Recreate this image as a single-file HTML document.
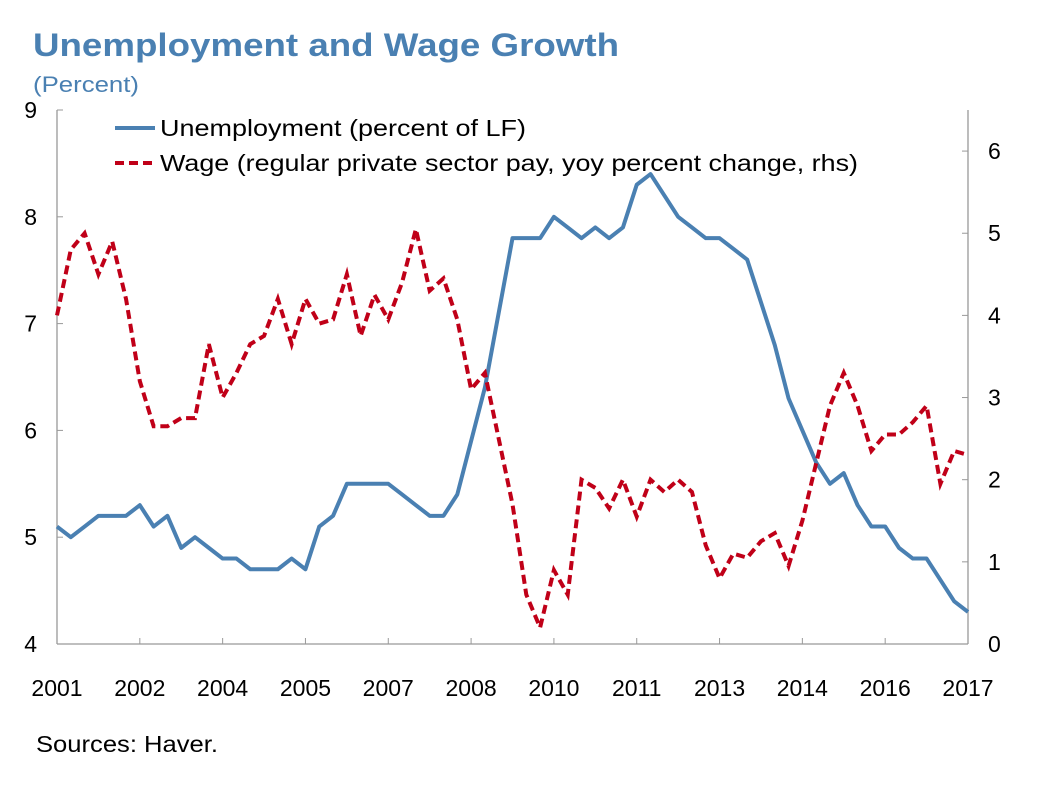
<!DOCTYPE html>
<html><head><meta charset="utf-8"><style>
body{margin:0;background:#fff;width:1046px;height:782px;overflow:hidden;font-family:"Liberation Sans",sans-serif}
svg text{font-family:"Liberation Sans",sans-serif}
</style></head><body>
<svg id="chart" width="1046" height="782">
<text x="33" y="56" font-size="32" font-weight="bold" fill="#4a80b2" textLength="586" lengthAdjust="spacingAndGlyphs">Unemployment and Wage Growth</text>
<text x="33" y="92" font-size="22" fill="#4a80b2" textLength="106" lengthAdjust="spacingAndGlyphs">(Percent)</text>
<text x="36" y="752" font-size="23" fill="#000" textLength="182" lengthAdjust="spacingAndGlyphs">Sources: Haver.</text>
<g id="axes"></g><g id="series"></g>
<g>
<line x1="115" y1="128" x2="155" y2="128" stroke="#4a80b2" stroke-width="4"/>
<text x="160" y="136" font-size="23" textLength="366" lengthAdjust="spacingAndGlyphs">Unemployment (percent of LF)</text>
<line x1="115" y1="163" x2="155" y2="163" stroke="#c00018" stroke-width="4" stroke-dasharray="9,5"/>
<text x="160" y="171" font-size="23" textLength="698" lengthAdjust="spacingAndGlyphs">Wage (regular private sector pay, yoy percent change, rhs)</text>
</g>
</svg>
<script>
const xLabels=["2001","2002","2004","2005","2007","2008","2010","2011","2013","2014","2016","2017"];
const leftTicks=[4,5,6,7,8,9];
const rightTicks=[0,1,2,3,4,5,6];
const unemployment=[5.1,5.0,5.1,5.2,5.2,5.2,5.3,5.1,5.2,4.9,5.0,4.9,4.8,4.8,4.7,4.7,4.7,4.8,4.7,5.1,5.2,5.5,5.5,5.5,5.5,5.4,5.3,5.2,5.2,5.4,5.9,6.4,7.1,7.8,7.8,7.8,8.0,7.9,7.8,7.9,7.8,7.9,8.3,8.4,8.2,8.0,7.9,7.8,7.8,7.7,7.6,7.2,6.8,6.3,6.0,5.7,5.5,5.6,5.3,5.1,5.1,4.9,4.8,4.8,4.6,4.4,4.3];
const wage=[4.0,4.8,5.0,4.5,4.9,4.2,3.2,2.65,2.65,2.75,2.75,3.65,3.0,3.3,3.65,3.75,4.2,3.65,4.2,3.9,3.95,4.5,3.75,4.25,3.95,4.4,5.05,4.3,4.45,3.95,3.1,3.3,2.5,1.7,0.6,0.2,0.9,0.6,2.0,1.9,1.65,2.0,1.55,2.0,1.85,2.0,1.85,1.2,0.8,1.1,1.05,1.25,1.35,0.95,1.5,2.2,2.9,3.3,2.9,2.35,2.55,2.55,2.7,2.9,1.95,2.35,2.3];
const X0=57,X1=968,Y0=644,Y1=110,NQ=66;
const xq=i=>X0+(X1-X0)*i/NQ;
const yl=v=>Y0-(v-4)/5*(Y0-Y1);
const yr=v=>Y0-v/6.5*(Y0-Y1);
const NS="http://www.w3.org/2000/svg";
function mk(t,a,p){const e=document.createElementNS(NS,t);for(const k in a)e.setAttribute(k,a[k]);p.appendChild(e);return e;}
const ax=document.getElementById('axes'),se=document.getElementById('series');
let e=mk('line',{x1:X0,y1:Y1,x2:X0,y2:Y0,stroke:'#999','stroke-width':1.3},ax);


e=mk('line',{x1:X1,y1:Y1,x2:X1,y2:Y0,stroke:'#999','stroke-width':1.3},ax);


e=mk('line',{x1:X0,y1:Y0,x2:X1,y2:Y0,stroke:'#999','stroke-width':1.3},ax);


leftTicks.forEach(v=>{const y=yl(v);
 mk('line',{x1:X0,y1:y,x2:X0+6,y2:y,stroke:'#999'},ax);
 const t=mk('text',{x:X0-20,y:y+8,'font-size':23,'text-anchor':'end'},ax);t.textContent=v;
 
 });
rightTicks.forEach(v=>{const y=yr(v);
 mk('line',{x1:X1-6,y1:y,x2:X1,y2:y,stroke:'#999'},ax);
 const t=mk('text',{x:X1+20,y:y+8,'font-size':23},ax);t.textContent=v;
 
 });
xLabels.forEach((s,k)=>{const x=xq(k*6);
 mk('line',{x1:x,y1:Y0,x2:x,y2:Y0-6,stroke:'#999'},ax);
 const t=mk('text',{x:x,y:Y0+52,'font-size':23,'text-anchor':'middle'},ax);t.textContent=s;
 
 });
let p=mk('polyline',{points:unemployment.map((v,i)=>xq(i)+','+yl(v)).join(' '),fill:'none',stroke:'#4a80b2','stroke-width':4,'stroke-linejoin':'round'},se);


p=mk('polyline',{points:wage.map((v,i)=>xq(i)+','+yr(v)).join(' '),fill:'none',stroke:'#c00018','stroke-width':4,'stroke-dasharray':'9,5'},se);


</script>
</body></html>
